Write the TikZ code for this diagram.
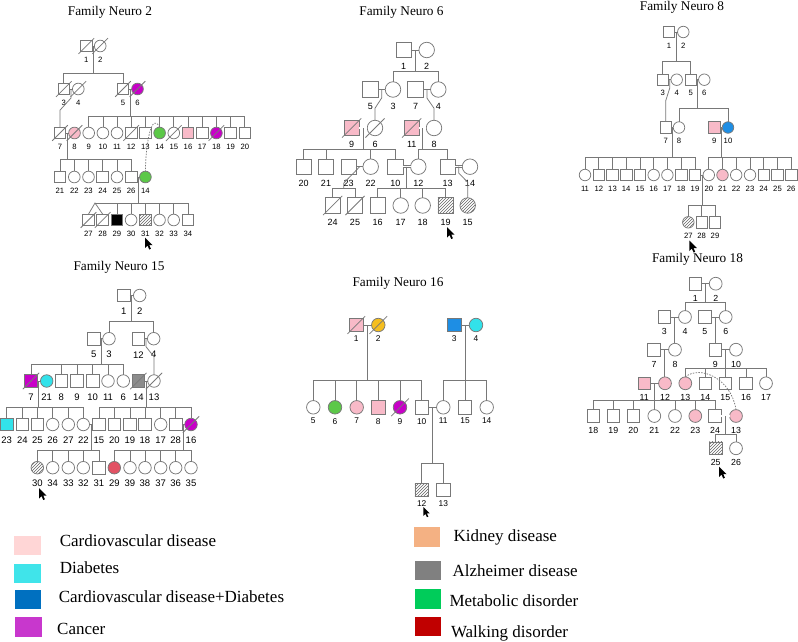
\documentclass[tikz,border=0pt]{standalone}
\usepackage{fontspec}
\setmainfont{Liberation Serif}
\setsansfont{Liberation Sans}
\usetikzlibrary{calc,patterns}
\definecolor{lnc}{RGB}{120,120,120}
\definecolor{pk}{RGB}{248,186,200}
\definecolor{mg}{RGB}{200,0,200}
\definecolor{gr}{RGB}{92,200,72}
\definecolor{cy}{RGB}{50,226,234}
\definecolor{bl}{RGB}{30,142,228}
\definecolor{gy}{RGB}{140,140,140}
\definecolor{yo}{RGB}{245,190,30}
\definecolor{rd}{RGB}{226,82,100}
\definecolor{hatc}{RGB}{100,100,100}
\definecolor{lpk}{RGB}{255,214,214}
\definecolor{lcy}{RGB}{64,228,234}
\definecolor{lbl}{RGB}{0,112,192}
\definecolor{lmg}{RGB}{200,55,205}
\definecolor{lor}{RGB}{244,177,131}
\definecolor{lgy}{RGB}{128,128,128}
\definecolor{lgr}{RGB}{0,204,90}
\definecolor{lrd}{RGB}{192,0,0}
\def\ss{12pt}\def\sh{8}\def\ld{14}\def\lf{\fontsize{8}{9}\selectfont}
\tikzset{
 ln/.style={draw=lnc, line width=0.75pt},
 dbl/.style={double=white, double distance=1.3pt},
 sq/.style={rectangle, draw=lnc, line width=0.75pt, minimum size=\ss, inner sep=0pt, outer sep=0pt},
 ci/.style={circle, draw=lnc, line width=0.75pt, minimum size=\ss, inner sep=0pt, outer sep=0pt},
 hat/.style={pattern=north east lines, pattern color=hatc},
 lab/.style={font=\sffamily\lf, inner sep=0pt},
 ttl/.style={font=\fontsize{13.3}{15}\selectfont, inner sep=0pt},
 lgt/.style={font=\fontsize{17}{19}\selectfont, anchor=west, inner sep=0pt},
 lgsq/.style={rectangle, minimum width=26.5pt, minimum height=19.5pt, inner sep=0pt},
 mousecur/.pic={\fill[black] (0,0) -- (0,10.5) -- (2.5,8.1) -- (4.3,12) -- (5.9,11.3) -- (4.2,7.5) -- (7.5,7.5) -- cycle;}
}
\newcommand\pn[5]{\node[#1] (#2) at (#3,#4) {}; \node[lab] (#2l) at (#3,{#4+\ld}) {#5};}
\newcommand\dd[1]{\draw[ln] ([shift={(-\sh,\sh)}]#1.center) -- ([shift={(\sh,-\sh)}]#1.center);}
\newcommand\sib[4]{\coordinate (#1#2m) at ($(#1)!0.5!(#2)$); \coordinate (#1#2s) at (0,#3);
 \draw[ln] (#1#2m) -- (#1#2m |- #1#2s);
 \foreach \ch in {#4} {\draw[ln] (\ch.north) -- (\ch |- #1#2s) -- (#1#2m |- #1#2s);}}
\begin{document}
\begin{tikzpicture}[x=1pt,y=-1pt]
\fill[white] (0,0) rectangle (798,641);
\path[use as bounding box] (0,0) rectangle (798,641);
% ================= Family Neuro 2
\def\ss{11.7pt}\def\sh{7.8}\def\ld{13.5}\def\lf{\fontsize{7.7}{8}\selectfont}
\node[ttl] (t2) at (110,12) {Family Neuro 2};
\pn{sq}{b1}{86.3}{46}{1} \pn{ci}{b2}{100.2}{46}{2}
\pn{sq}{b3}{63.8}{89}{3} \pn{ci}{b4}{78.3}{89}{4}
\pn{sq}{b5}{123}{89}{5} \pn{ci,fill=mg}{b6}{137.5}{89}{6}
\pn{sq}{b7}{60}{133}{7} \pn{ci,fill=pk}{b8}{74.5}{133}{8} \pn{ci}{b9}{88.7}{133}{9}
\pn{ci}{b10}{102.9}{133}{10} \pn{ci}{b11}{117}{133}{11} \pn{sq}{b12}{131.2}{133}{12}
\pn{sq}{b13}{145.4}{133}{13} \pn{ci,fill=gr}{b14}{159.6}{133}{14} \pn{ci}{b15}{173.8}{133}{15}
\pn{sq,fill=pk}{b16}{188}{133}{16} \pn{sq}{b17}{202.2}{133}{17} \pn{ci,fill=mg}{b18}{216.4}{133}{18}
\pn{sq}{b19}{230.6}{133}{19} \pn{sq}{b20}{244.8}{133}{20}
\pn{sq}{b21}{60}{177}{21} \pn{ci}{b22}{74.3}{177}{22} \pn{ci}{b23}{88.5}{177}{23}
\pn{sq}{b24}{102.7}{177}{24} \pn{ci}{b25}{117}{177}{25} \pn{sq}{b26}{131.2}{177}{26}
\pn{ci,fill=gr}{b14b}{145.4}{177}{14}
\pn{sq}{b27}{88.5}{220}{27} \pn{sq}{b28}{102.7}{220}{28} \pn{sq,fill=black}{b29}{116.9}{220}{29}
\pn{ci}{b30}{131.1}{220}{30} \pn{sq,hat}{b31}{145.3}{220}{31} \pn{ci}{b32}{159.5}{220}{32}
\pn{ci}{b33}{173.7}{220}{33} \pn{sq}{b34}{187.9}{220}{34}
\foreach \q in {b1,b2,b3,b4,b5,b6,b7,b8,b12,b15,b18,b27,b28} {\dd{\q}}
\draw[ln] (b1) -- (b2); \sib{b1}{b2}{73}{b3,b5}
\draw[ln] (b3) -- (b4); \draw[ln] (b5) -- (b6);
\coordinate (b3b4m) at ($(b3)!0.5!(b4)$);
\draw[ln] (b3b4m) -- ++(0,9) -- ($(b7.north)+(0,-17)$) -- (b7.north);
\sib{b5}{b6}{116}{b9,b10,b11,b12,b13,b14,b15,b16,b17,b18,b19,b20}
\draw[ln] (b7) -- (b8); \sib{b7}{b8}{159}{b21,b22,b23,b24,b25,b26}
\draw[ln] (b26) -- (b14b); \sib{b26}{b14b}{203}{b29,b30,b31,b32,b33,b34}
\coordinate (tw) at (95,203);
\draw[ln] (b27.north) -- (tw) -- (b28.north); \draw[ln] (tw) -- (b29 |- tw);
\draw[ln, dash pattern=on 1.5pt off 1.3pt] (b14.north) .. controls (152,112) and (146,140) .. (b14b.north);
\pic at (145,237.5) {mousecur};
% ================= Family Neuro 6
\def\ss{15.5pt}\def\sh{9.6}\def\ld{16.5}\def\lf{\fontsize{9}{10}\selectfont}
\node[ttl] (t6) at (401.5,12.5) {Family Neuro 6};
\pn{sq}{c1}{403.7}{50}{1} \pn{ci}{c2}{426.7}{50}{2}
\pn{sq}{c5}{370.3}{89.5}{5} \pn{ci}{c3}{393}{89.5}{3} \pn{sq}{c7}{415.5}{89.5}{7} \pn{ci}{c4}{438.3}{89.5}{4}
\pn{sq,fill=pk}{c9}{351.7}{128}{9} \pn{ci}{c6}{375}{128}{6} \pn{sq,fill=pk}{c11}{411.7}{128}{11} \pn{ci}{c8}{434}{128}{8}
\pn{sq}{c20}{303.7}{166.7}{20} \pn{sq}{c21}{326}{166.7}{21} \pn{sq}{c23}{348.7}{166.7}{23}
\pn{ci}{c22}{370.7}{166.7}{22} \pn{sq}{c10}{395.3}{166.7}{10} \pn{ci}{c12}{418.3}{166.7}{12}
\pn{sq}{c13}{447.7}{166.7}{13} \pn{ci}{c14}{470}{166.7}{14}
\pn{sq}{c24}{332.7}{205.5}{24} \pn{sq}{c25}{355}{205.5}{25} \pn{sq}{c16}{377.7}{205.5}{16}
\pn{ci}{c17}{400.7}{205.5}{17} \pn{ci}{c18}{422.7}{205.5}{18} \pn{sq,hat}{c19}{445.7}{205.5}{19}
\pn{ci,hat}{c15}{467.7}{205.5}{15}
\foreach \q in {c9,c6,c11,c24,c25} {\dd{\q}}
\draw[ln] (c1) -- (c2); \sib{c1}{c2}{71}{c3,c4}
\draw[ln] (c5) -- (c3); \draw[ln] (c7) -- (c4);
\coordinate (c5c3m) at ($(c5)!0.5!(c3)$);
\draw[ln] (c5c3m) -- ++(0,8.5) -- ($(c6.north)+(0,-12)$) -- (c6.north);
\coordinate (c7c4m) at ($(c7)!0.5!(c4)$);
\draw[ln] (c7c4m) -- ++(0,8.5) -- ($(c8.north)+(0,-12)$) -- (c8.north);
\draw[ln,dbl] (c9) -- (c6); \sib{c9}{c6}{149.3}{c20,c21,c22,c10}
\draw[ln,dbl] (c11) -- (c8); \sib{c11}{c8}{149.3}{c12,c13}
\draw[ln] (c23) -- (c22);
\coordinate (c23c22m) at ($(c23)!0.5!(c22)$);
\coordinate (c2425) at ($(c24)!0.5!(c25)$);
\coordinate (c24s) at (0,188.3); \coordinate (c24d) at (0,183);
\draw[ln] (c23c22m) -- (c2425 |- c24d) -- (c2425 |- c24s);
\foreach \ch in {c24,c25} {\draw[ln] (\ch.north) -- (\ch |- c24s) -- (c2425 |- c24s);}
\draw[ln,dbl] (c10) -- (c12); \sib{c10}{c12}{188.3}{c16,c17,c18,c19}
\draw[ln,dbl] (c13) -- (c14);
\coordinate (c13c14m) at ($(c13)!0.5!(c14)$);
\draw[ln] (c13c14m) -- ++(0,6.5) -- ($(c15.north)+(0,-15.5)$) -- (c15.north);
\pic at (447,227) {mousecur};
% ================= Family Neuro 8
\def\ss{11.5pt}\def\sh{7.6}\def\ld{13.5}\def\lf{\fontsize{7.7}{8}\selectfont}
\node[ttl] (t8) at (682,7) {Family Neuro 8};
\pn{sq}{d1}{669}{32}{1} \pn{ci}{d2}{683.3}{32}{2}
\pn{sq}{d3}{662.7}{79.7}{3} \pn{ci}{d4}{676.7}{79.7}{4} \pn{sq}{d5}{690.7}{79.7}{5} \pn{ci}{d6}{704.3}{79.7}{6}
\pn{sq}{d7}{665.7}{127.5}{7} \pn{ci}{d8}{679}{127.5}{8} \pn{sq,fill=pk}{d9}{714.3}{127.5}{9} \pn{ci,fill=bl}{d10}{728}{127.5}{10}
\pn{ci}{d11}{585}{175}{11} \pn{sq}{d12}{598.8}{175}{12} \pn{sq}{d13}{612.5}{175}{13}
\pn{sq}{d14}{626.2}{175}{14} \pn{sq}{d15}{640}{175}{15} \pn{ci}{d16}{653.7}{175}{16}
\pn{ci}{d17}{667.4}{175}{17} \pn{sq}{d18}{681.2}{175}{18} \pn{sq}{d19}{695}{175}{19}
\pn{ci}{d20}{708.8}{175}{20} \pn{ci,fill=pk}{d21}{722.5}{175}{21} \pn{ci}{d22}{736.2}{175}{22}
\pn{ci}{d23}{750}{175}{23} \pn{sq}{d24}{763.7}{175}{24} \pn{sq}{d25}{777.5}{175}{25} \pn{sq}{d26}{791.2}{175}{26}
\pn{ci,hat}{d27}{688.3}{222.3}{27} \pn{sq}{d28}{701.7}{222.3}{28} \pn{sq}{d29}{715}{222.3}{29}
\draw[ln] (d1) -- (d2); \sib{d1}{d2}{61.7}{d3,d5}
\draw[ln] (d3) -- (d4); \draw[ln] (d5) -- (d6);
\coordinate (d3d4m) at ($(d3)!0.5!(d4)$);
\draw[ln] (d3d4m) -- ++(0,8.5) -- ($(d7.north)+(0,-21)$) -- (d7.north);
\sib{d5}{d6}{108.3}{d8,d10}
\draw[ln] (d7) -- (d8); \sib{d7}{d8}{157.3}{d11,d12,d13,d14,d15,d16,d17,d18,d19}
\draw[ln] (d9) -- (d10); \sib{d9}{d10}{157.3}{d20,d21,d22,d23,d24,d25,d26}
\draw[ln] (d19) -- (d20); \sib{d19}{d20}{205}{d27,d28,d29}
\pic at (689.3,240.5) {mousecur};
% ================= Family Neuro 18
\def\ss{12.8pt}\def\sh{8.4}\def\ld{14.5}\def\lf{\fontsize{8.8}{9}\selectfont}
\node[ttl] (t18) at (697.5,259.5) {Family Neuro 18};
\pn{sq}{f1}{695.3}{283.7}{1} \pn{ci}{f2}{715.7}{283.7}{2}
\pn{sq}{f3}{664.3}{317}{3} \pn{ci}{f4}{685}{317}{4} \pn{sq}{f5}{704.7}{317}{5} \pn{ci}{f6}{725.7}{317}{6}
\pn{sq}{f7}{654}{349.7}{7} \pn{ci}{f8}{675}{349.7}{8} \pn{sq}{f9}{715.3}{349.7}{9} \pn{ci}{f10}{736}{349.7}{10}
\pn{sq,fill=pk}{f11}{644.3}{383.3}{11} \pn{ci,fill=pk}{f12}{665}{383.3}{12} \pn{ci,fill=pk}{f13}{685.3}{383.3}{13}
\pn{sq}{f14}{705.3}{383.3}{14} \pn{sq}{f15}{725.3}{383.3}{15} \pn{sq}{f16}{746}{383.3}{16} \pn{ci}{f17}{766}{383.3}{17}
\pn{sq}{f18}{593.3}{416}{18} \pn{sq}{f19}{613.3}{416}{19} \pn{sq}{f20}{633.3}{416}{20}
\pn{ci}{f21}{654.3}{416}{21} \pn{ci}{f22}{675}{416}{22} \pn{ci,fill=pk}{f23}{695.3}{416}{23}
\pn{sq}{f24}{715}{416}{24} \pn{ci,fill=pk}{f13b}{736}{416}{13}
\pn{sq,hat}{f25}{715.7}{448.3}{25} \pn{ci}{f26}{736}{448.3}{26}
\draw[ln] (f1) -- (f2); \sib{f1}{f2}{302.3}{f4,f6}
\draw[ln] (f3) -- (f4); \coordinate (f3f4m) at ($(f3)!0.5!(f4)$); \draw[ln] (f3f4m) -- (f3f4m |- f8.north);
\draw[ln] (f5) -- (f6); \coordinate (f5f6m) at ($(f5)!0.5!(f6)$); \draw[ln] (f5f6m) -- (f5f6m |- f9.north);
\draw[ln] (f7) -- (f8); \coordinate (f7f8m) at ($(f7)!0.5!(f8)$); \draw[ln] (f7f8m) -- (f7f8m |- f12.north);
\draw[ln] (f9) -- (f10); \sib{f9}{f10}{368.3}{f13,f14,f15,f16,f17}
\draw[ln] (f11) -- (f12); \sib{f11}{f12}{400.7}{f18,f19,f20,f21,f22,f23,f24}
\draw[ln,dbl] (f24) -- (f13b); \sib{f24}{f13b}{434}{f25,f26}
\draw[ln, dash pattern=on 1.5pt off 1.3pt] (f13.north) .. controls (700,365) and (731,378) .. (f13b.north);
\pic at (719,466.5) {mousecur};
% ================= Family Neuro 15
\def\ss{12.5pt}\def\sh{8.2}\def\ld{16}\def\lf{\fontsize{9.5}{10}\selectfont}
\node[ttl] (t15) at (119,267) {Family Neuro 15};
\pn{sq}{g1}{123.7}{295.5}{1} \pn{ci}{g2}{139.7}{295.5}{2}
\pn{sq}{g5}{93.7}{338.7}{5} \pn{ci}{g3}{109}{338.7}{3} \pn{sq}{g12}{138.3}{338.7}{12} \pn{ci}{g4}{153.7}{338.7}{4}
\pn{sq,fill=mg}{g7}{31}{381}{7} \pn{ci,fill=cy}{g21}{46.7}{381}{21} \pn{sq}{g8}{61.3}{381}{8}
\pn{sq}{g9}{77}{381}{9} \pn{sq}{g10}{92.7}{381}{10} \pn{ci}{g11}{108}{381}{11}
\pn{ci}{g6}{123.3}{381}{6} \pn{sq,fill=gy}{g14}{138.3}{381}{14} \pn{ci}{g13}{154}{381}{13}
\pn{sq,fill=cy}{g23}{6.7}{424.5}{23} \pn{sq}{g24}{22.3}{424.5}{24} \pn{sq}{g25}{37.3}{424.5}{25}
\pn{ci}{g26}{52.7}{424.5}{26} \pn{ci}{g27}{68.3}{424.5}{27} \pn{ci}{g22}{83.3}{424.5}{22}
\pn{sq}{g15}{99}{424.5}{15} \pn{sq}{g20}{114.3}{424.5}{20} \pn{sq}{g19}{130}{424.5}{19}
\pn{sq}{g18}{145}{424.5}{18} \pn{ci}{g17}{160.7}{424.5}{17} \pn{sq}{g28}{175.7}{424.5}{28}
\pn{ci,fill=mg}{g16}{191}{424.5}{16}
\pn{ci,hat}{g30}{37.3}{467.7}{30} \pn{ci}{g34}{52.7}{467.7}{34} \pn{ci}{g33}{68.3}{467.7}{33}
\pn{ci}{g32}{83.3}{467.7}{32} \pn{sq}{g31}{99}{467.7}{31} \pn{ci,fill=rd}{g29}{114.3}{467.7}{29}
\pn{ci}{g39}{130}{467.7}{39} \pn{ci}{g38}{145}{467.7}{38} \pn{ci}{g37}{160.7}{467.7}{37}
\pn{ci}{g36}{175.7}{467.7}{36} \pn{ci}{g35}{191}{467.7}{35}
\foreach \q in {g7,g14,g13,g16} {\dd{\q}}
\draw[ln] (g1) -- (g2); \sib{g1}{g2}{321}{g3,g4}
\draw[ln] (g5) -- (g3); \sib{g5}{g3}{364.3}{g7,g8,g9,g10,g11,g6}
\draw[ln] (g12) -- (g4);
\coordinate (g12g4m) at ($(g12)!0.5!(g4)$);
\draw[ln] (g12g4m) -- ++(0,8) -- ($(g13.north)+(0,-18)$) -- (g13.north);
\draw[ln] (g7) -- (g21); \sib{g7}{g21}{407.3}{g23,g24,g25,g26,g27,g22}
\draw[ln] (g14) -- (g13); \sib{g14}{g13}{407.3}{g15,g20,g19,g18,g17,g28,g16}
\draw[ln] (g22) -- (g15); \sib{g22}{g15}{450.7}{g30,g34,g33,g32,g31}
\draw[ln] (g28) -- (g16); \sib{g28}{g16}{450.7}{g29,g39,g38,g37,g36,g35}
\pic at (39,488) {mousecur};
% ================= Family Neuro 16
\def\ss{13.5pt}\def\sh{8.8}\def\ld{13.8}\def\lf{\fontsize{8.4}{9}\selectfont}
\node[ttl] (t16) at (398,283) {Family Neuro 16};
\pn{sq,fill=pk}{h1}{356.3}{325}{1} \pn{ci,fill=yo}{h2}{378.3}{325}{2}
\pn{sq,fill=bl}{h3}{454.3}{325}{3} \pn{ci,fill=cy}{h4}{476}{325}{4}
\pn{ci}{h5}{313.3}{407.3}{5} \pn{ci,fill=gr}{h6}{335}{407.3}{6} \pn{ci,fill=pk}{h7}{356.7}{407.3}{7}
\pn{sq,fill=pk}{h8}{378.3}{407.3}{8} \pn{ci,fill=mg}{h9}{400}{407.3}{9} \pn{sq}{h10}{421.7}{407.3}{10}
\pn{ci}{h11}{443.3}{407.3}{11} \pn{sq}{h15}{465}{407.3}{15} \pn{ci}{h14}{486.7}{407.3}{14}
\def\ld{13.3}
\pn{sq,hat}{h12}{421.7}{490}{12} \pn{sq}{h13}{443.3}{490}{13}
\foreach \q in {h1,h2,h9} {\dd{\q}}
\draw[ln] (h1) -- (h2); \sib{h1}{h2}{380}{h5,h6,h7,h8,h9,h10}
\draw[ln] (h3) -- (h4); \sib{h3}{h4}{380}{h11,h15,h14}
\draw[ln] (h10) -- (h11); \sib{h10}{h11}{463.3}{h12,h13}
\pic[scale=0.85] at (423.3,507) {mousecur};
% ================= Legend
\node[lgsq, fill=lpk] (L1) at (27.5,545.5) {};
\node[lgt] (L1t) at (59.6,541) {Cardiovascular disease};
\node[lgsq, fill=lcy] (L2) at (27.5,573.3) {};
\node[lgt] (L2t) at (59.6,567.5) {Diabetes};
\node[lgsq, fill=lbl] (L3) at (28,599.7) {};
\node[lgt] (L3t) at (58.6,597) {Cardiovascular disease+Diabetes};
\node[lgsq, fill=lmg] (L4) at (28.5,627) {};
\node[lgt] (L4t) at (57,628.5) {Cancer};
\node[lgsq, fill=lor] (R1) at (427.1,537) {};
\node[lgt] (R1t) at (453.4,537.5) {Kidney disease};
\node[lgsq, fill=lgy] (R2) at (428,570.3) {};
\node[lgt] (R2t) at (452.4,571) {Alzheimer disease};
\node[lgsq, fill=lgr] (R3) at (428,599) {};
\node[lgt] (R3t) at (449.3,601) {Metabolic disorder};
\node[lgsq, fill=lrd] (R4) at (428,626.7) {};
\node[lgt] (R4t) at (450.8,633) {Walking disorder};
\end{tikzpicture}
\end{document}
